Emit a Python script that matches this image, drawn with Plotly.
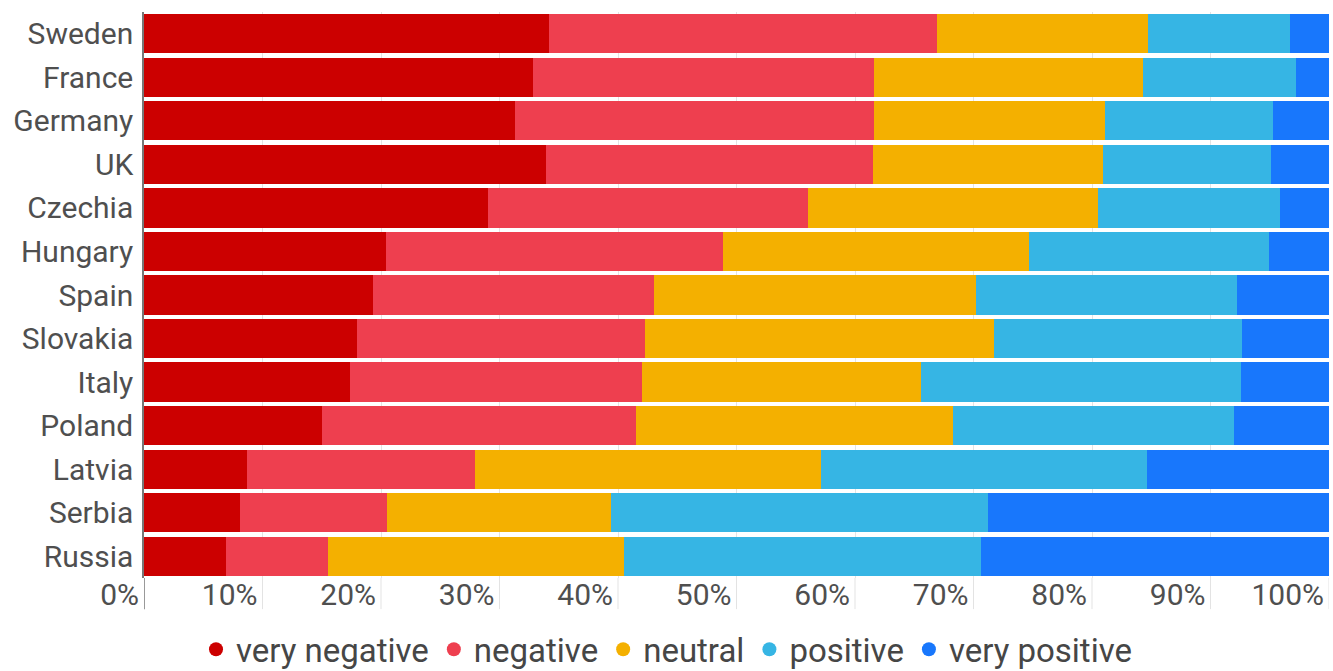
import plotly.graph_objects as go

countries = ['Sweden', 'France', 'Germany', 'UK', 'Czechia', 'Hungary', 'Spain',
             'Slovakia', 'Italy', 'Poland', 'Latvia', 'Serbia', 'Russia']

very_negative = [34.2, 32.8, 31.3, 33.9, 29.0, 20.4, 19.3, 18.0, 17.4, 15.0, 8.7, 8.1, 6.9]
negative = [32.7, 28.8, 30.3, 27.6, 27.0, 28.5, 23.7, 24.3, 24.6, 26.5, 19.2, 12.4, 8.6]
neutral = [17.8, 22.7, 19.5, 19.4, 24.5, 25.8, 27.2, 29.4, 23.6, 26.8, 29.2, 18.9, 25.0]
positive = [12.0, 12.9, 14.2, 14.2, 15.4, 20.2, 22.0, 21.0, 27.0, 23.7, 27.5, 31.8, 30.1]
very_positive = [3.3, 2.8, 4.7, 4.9, 4.1, 5.1, 7.8, 7.3, 7.4, 8.0, 15.4, 28.8, 29.4]

tick_vals = [0, 10, 20, 30, 40, 50, 60, 70, 80, 90, 100]
tick_text = ['0%', '10%', '20%', '30%', '40%', '50%', '60%', '70%', '80%', '90%', '100%']

series = [
    ('very negative', very_negative, '#cc0000'),
    ('negative', negative, '#ee3f4f'),
    ('neutral', neutral, '#f4b000'),
    ('positive', positive, '#36b5e4'),
    ('very positive', very_positive, '#1877fc'),
]

fig = go.Figure()

for name, vals, col in series:
    fig.add_trace(go.Bar(
        y=countries, x=vals, name=name, orientation='h',
        marker=dict(color=col, line=dict(width=0)),
        showlegend=False,
    ))

# legend entries drawn as dots
for name, vals, col in series:
    fig.add_trace(go.Scatter(
        x=[None], y=[None], mode='markers', name=name,
        marker=dict(color=col, size=14, symbol='circle'),
    ))

# gridline stubs that run down into the tick label row
for t in tick_vals:
    fig.add_shape(
        type='line', xref='x', yref='paper', x0=t, x1=t, y0=0, y1=-0.055,
        line=dict(color='#777777' if t == 0 else '#e3e3e3', width=1.5 if t == 0 else 1),
        layer='below',
    )

fig.update_layout(
    barmode='stack',
    bargap=0.1,
    width=1333,
    height=671,
    margin=dict(l=144, r=4, t=12, b=93, autoexpand=False),
    plot_bgcolor='white',
    paper_bgcolor='white',
    font=dict(family='Roboto', size=30, color='#4f4f4f'),
    legend=dict(
        orientation='h', xref='container', yref='paper',
        x=0.5, xanchor='center', y=-0.126, yanchor='middle',
        font=dict(size=33, color='#464646'),
        traceorder='normal',
        itemwidth=30, tracegroupgap=0,
    ),
)

fig.update_xaxes(
    range=[0, 100], tickvals=tick_vals, ticktext=tick_text,
    ticklabelposition='outside left', ticklabelshift=-5, ticklabelstandoff=-4,
    showgrid=True, gridcolor='#e3e3e3', gridwidth=1,
    zeroline=False, showline=False, ticks='',
    automargin=False, fixedrange=True,
)
fig.update_yaxes(
    autorange='reversed',
    showgrid=False, zeroline=False,
    showline=True, linecolor='#777777', linewidth=1.5,
    ticks='', ticklabelstandoff=3,
    automargin=False, fixedrange=True,
)

fig.write_html('out.html', config={'displayModeBar': False},
               post_script="document.body.style.margin='0';")
